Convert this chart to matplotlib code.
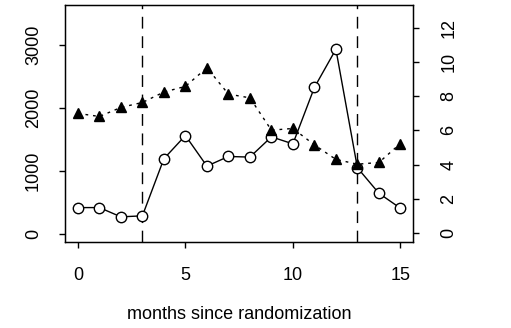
import matplotlib
matplotlib.use('Agg')
import matplotlib.pyplot as plt

### data
months = [0, 1, 2, 3, 4, 5, 6, 7, 8, 9, 10, 11, 12, 13, 14, 15]
counts = [421, 421, 274, 290, 1196, 1564, 1079, 1232, 1222, 1543, 1432, 2327, 2933, 1053, 648, 411]
rate = [6.99, 6.81, 7.34, 7.63, 8.24, 8.57, 9.66, 8.12, 7.9, 6.01, 6.11, 5.15, 4.30, 4.02, 4.12, 5.23]
breaks = [3, 13]

plt.rcParams['font.family'] = ['Liberation Sans', 'DejaVu Sans']
plt.rcParams['font.size'] = 13

W, H = 511, 328
fig = plt.figure(figsize=(W / 100, H / 100), dpi=100)
ax = fig.add_axes([65 / W, (H - 242) / H, (413.3 - 65) / W, (242 - 5) / H])

### left axis: counts, open circles, solid line
ax.plot(months, counts, color='black', lw=1, marker='o', ms=7.5,
        mfc='white', mec='black', mew=1, zorder=3)
for b in breaks:
    ax.axvline(b, color='black', lw=1, linestyle=(0, (8.5, 5.5)), zorder=2)

ax.set_xlim(-0.6, 15.6)
ax.set_ylim(-125, 3635)
ax.set_xticks([0, 5, 10, 15])
ax.set_yticks([0, 1000, 2000, 3000])
ax.tick_params(axis='x', direction='out', length=4, width=1, pad=14)
ax.tick_params(axis='y', direction='out', length=4, width=1, pad=12.5)
for lab in ax.get_yticklabels():
    lab.set_rotation(90)
    lab.set_va('center')
ax.set_xlabel('months since randomization', labelpad=16)
for s in ax.spines.values():
    s.set_linewidth(1)

### right axis: rate, filled triangles, dotted line
ax2 = ax.twinx()
ax2.plot(months, rate, color='black', lw=1, linestyle=(0, (2, 3.5)),
         marker='^', ms=7, mfc='black', mec='black', zorder=3)
ax2.set_ylim(-0.53, 13.33)
ax2.set_yticks([0, 2, 4, 6, 8, 10, 12])
ax2.tick_params(axis='y', direction='out', length=4, width=1, pad=15.5)
for lab in ax2.get_yticklabels():
    lab.set_rotation(90)
    lab.set_va('center')

plt.savefig('out.png', dpi=100)
